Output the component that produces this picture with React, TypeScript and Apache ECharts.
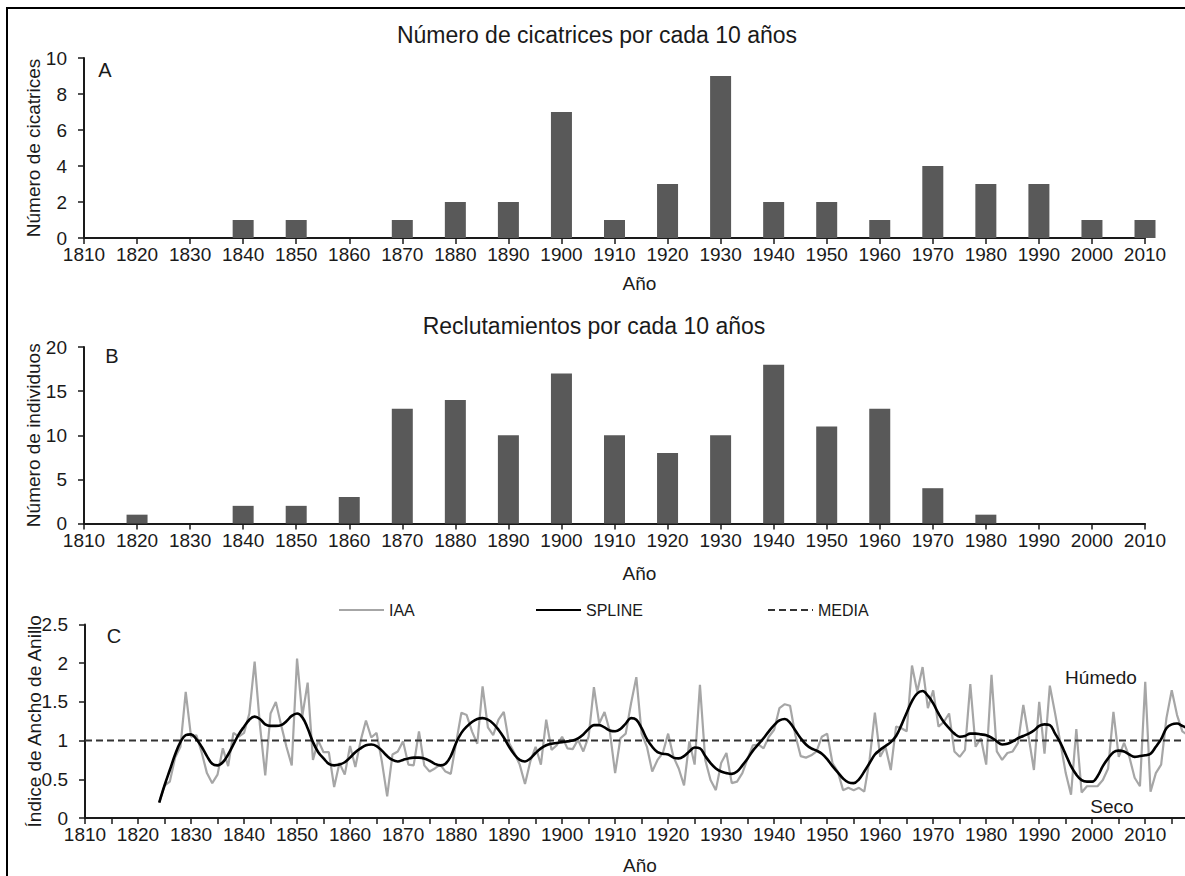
import React, { useEffect, useRef } from "react";
import * as echarts from "echarts";

const FONT = "'Liberation Sans', Arial, sans-serif";

// Panel A / B: decades
const decades = [1810, 1820, 1830, 1840, 1850, 1860, 1870, 1880, 1890, 1900, 1910, 1920, 1930, 1940, 1950, 1960, 1970, 1980, 1990, 2000, 2010];
const scars = [0, 0, 0, 1, 1, 0, 1, 2, 2, 7, 1, 3, 9, 2, 2, 1, 4, 3, 3, 1, 1];
const recruits = [0, 1, 0, 2, 2, 3, 13, 14, 10, 17, 10, 8, 10, 18, 11, 13, 4, 1, 0, 0, 0];

// Panel C: yearly ring-width index, first year 1824
const firstYear = 1824;
const iaa = [
  0.2, 0.42, 0.47, 0.78, 0.92, 1.63, 1.05, 1.07, 0.85, 0.58, // 1824-1833
  0.45, 0.56, 0.9, 0.67, 1.1, 1.05, 1.1, 1.35, 2.02, 1.2, // 1834-1843
  0.55, 1.35, 1.5, 1.2, 0.92, 0.68, 2.06, 1.32, 1.75, 0.75, // 1844-1853
  1.0, 0.85, 0.85, 0.4, 0.71, 0.56, 0.93, 0.66, 1.0, 1.26, // 1854-1863
  1.04, 1.1, 0.73, 0.28, 0.82, 0.86, 0.99, 0.69, 0.68, 1.12, // 1864-1873
  0.68, 0.6, 0.64, 0.69, 0.6, 0.57, 0.97, 1.36, 1.33, 1.12, // 1874-1883
  0.96, 1.7, 1.17, 1.07, 1.27, 1.37, 0.97, 0.84, 0.69, 0.44, // 1884-1893
  0.73, 0.92, 0.69, 1.27, 0.88, 0.94, 1.05, 0.9, 0.89, 1.01, // 1894-1903
  0.86, 1.05, 1.69, 1.22, 1.37, 1.12, 0.58, 1.03, 1.09, 1.48, // 1904-1913
  1.82, 1.09, 0.92, 0.6, 0.75, 0.84, 1.09, 0.79, 0.64, 0.42, // 1914-1923
  0.99, 0.69, 1.72, 0.75, 0.49, 0.36, 0.71, 0.84, 0.45, 0.47, // 1924-1933
  0.58, 0.77, 0.94, 0.95, 0.9, 1.05, 1.14, 1.42, 1.47, 1.45, // 1934-1943
  1.07, 0.8, 0.78, 0.81, 0.86, 1.05, 1.09, 0.71, 0.6, 0.36, // 1944-1953
  0.39, 0.36, 0.39, 0.34, 0.75, 1.36, 0.79, 0.92, 0.62, 1.18, // 1954-1963
  1.16, 1.12, 1.97, 1.63, 1.95, 1.42, 1.65, 1.18, 1.24, 1.35, // 1964-1973
  0.86, 0.79, 0.88, 1.73, 0.92, 1.03, 0.69, 1.85, 0.86, 0.75, // 1974-1983
  0.84, 0.86, 0.97, 1.46, 1.05, 0.62, 1.5, 0.83, 1.71, 1.35, // 1984-1993
  0.97, 0.58, 0.3, 1.15, 0.33, 0.41, 0.41, 0.41, 0.49, 0.64, // 1994-2003
  1.37, 0.79, 0.97, 0.79, 0.52, 0.41, 1.76, 0.34, 0.58, 0.69, // 2004-2013
  1.29, 1.65, 1.33, 1.12, 1.07 // 2014-2018
];
const spline = [
  0.2, 0.42, 0.62, 0.82, 0.98, 1.07, 1.08, 1.02, 0.92, 0.8, // 1824-1833
  0.7, 0.68, 0.72, 0.82, 0.95, 1.08, 1.18, 1.27, 1.31, 1.28, // 1834-1843
  1.21, 1.19, 1.19, 1.2, 1.25, 1.32, 1.35, 1.3, 1.16, 0.98, // 1844-1853
  0.85, 0.77, 0.7, 0.68, 0.69, 0.72, 0.78, 0.85, 0.9, 0.94, // 1854-1863
  0.95, 0.93, 0.87, 0.8, 0.75, 0.73, 0.75, 0.77, 0.78, 0.78, // 1864-1873
  0.77, 0.74, 0.7, 0.68, 0.7, 0.8, 0.97, 1.1, 1.18, 1.24, // 1874-1883
  1.28, 1.29, 1.27, 1.22, 1.14, 1.04, 0.92, 0.82, 0.75, 0.73, // 1884-1893
  0.77, 0.84, 0.9, 0.94, 0.96, 0.97, 0.98, 0.99, 1.0, 1.03, // 1894-1903
  1.08, 1.15, 1.2, 1.2, 1.17, 1.13, 1.12, 1.15, 1.22, 1.29, // 1904-1913
  1.27, 1.16, 1.02, 0.92, 0.85, 0.83, 0.82, 0.78, 0.77, 0.8, // 1914-1923
  0.86, 0.91, 0.9, 0.8, 0.71, 0.64, 0.6, 0.58, 0.57, 0.6, // 1924-1933
  0.68, 0.77, 0.87, 0.95, 1.03, 1.12, 1.2, 1.26, 1.28, 1.23, // 1934-1943
  1.13, 1.03, 0.95, 0.9, 0.87, 0.83, 0.76, 0.67, 0.59, 0.51, // 1944-1953
  0.46, 0.45, 0.5, 0.6, 0.71, 0.82, 0.88, 0.93, 0.98, 1.06, // 1954-1963
  1.2, 1.36, 1.51, 1.61, 1.64, 1.58, 1.48, 1.35, 1.24, 1.16, // 1964-1973
  1.09, 1.05, 1.06, 1.09, 1.09, 1.08, 1.07, 1.04, 0.99, 0.95, // 1974-1983
  0.96, 0.99, 1.03, 1.06, 1.09, 1.13, 1.19, 1.21, 1.2, 1.09, // 1984-1993
  0.97, 0.82, 0.67, 0.56, 0.49, 0.47, 0.47, 0.54, 0.67, 0.77, // 1994-2003
  0.85, 0.87, 0.86, 0.82, 0.79, 0.8, 0.81, 0.83, 0.92, 1.02, // 2004-2013
  1.16, 1.21, 1.22, 1.19, 1.16 // 2014-2018
];
const mediaValue = 1;

const titleA = "Número de cicatrices por cada 10 años";
const titleB = "Reclutamientos por cada 10 años";

export default function App() {
  const ref = useRef<HTMLDivElement>(null);
  useEffect(() => {
    document.body.style.margin = "0";
    const chart = echarts.init(ref.current!, null, { renderer: "svg" });
    const ink = "#1a1a1a";
    const axisLine = { show: true, lineStyle: { color: ink, width: 2 } };
    const axisTick = { show: true, length: 6, lineStyle: { color: ink, width: 1.5 } };
    const labelStyle = { fontSize: 19, color: ink, fontFamily: FONT };
    const nameStyle = { fontSize: 19, color: ink, fontFamily: FONT };

    const decadeX = (gridIndex: number, gap: number) => ({
      type: "value",
      gridIndex,
      min: 1810,
      max: 2010,
      interval: 10,
      axisLine,
      axisTick,
      splitLine: { show: false },
      axisLabel: { ...labelStyle, margin: 7, formatter: (v: number) => String(v) },
      name: "Año",
      nameLocation: "middle",
      nameGap: gap,
      nameMoveOverlap: false,
      nameTextStyle: { ...nameStyle, padding: [0, 0, 0, 50] },
    });

    const yName = (gridIndex: number, max: number, interval: number, name: string) => ({
      type: "value", gridIndex, min: 0, max, interval,
      axisLine, axisTick, splitLine: { show: false },
      axisLabel: { ...labelStyle, margin: 17 },
      name, nameLocation: "middle", nameGap: 41, nameMoveOverlap: false, nameTextStyle: nameStyle,
    });

    const yearsIaa = iaa.map((v, i) => [firstYear + i, v]);
    const yearsSpline = spline.map((v, i) => [firstYear + i, v]);

    const legendBase = {
      top: 602,
      padding: 0,
      itemWidth: 45,
      itemHeight: 14,
      itemStyle: { opacity: 0 },
      textStyle: { fontSize: 16, color: ink, fontFamily: FONT },
    };

    chart.setOption({
      animation: false,
      textStyle: { fontFamily: FONT },
      grid: [
        { left: 84, top: 58, width: 1061, height: 180 },
        { left: 84, top: 347, width: 1061, height: 176.5 },
        { left: 85, top: 624.5, width: 1100, height: 194.2 },
      ],
      xAxis: [
        decadeX(0, 35.5),
        decadeX(1, 40),
        {
          type: "value",
          gridIndex: 2,
          min: 1810,
          max: 2017.5,
          interval: 5,
          axisLine,
          axisTick,
          splitLine: { show: false },
          axisLabel: {
            ...labelStyle,
            margin: 7,
            showMaxLabel: false,
            formatter: (v: number) => (v % 10 === 0 ? String(v) : ""),
          },
          name: "Año",
          nameLocation: "middle",
          nameGap: 38,
          nameMoveOverlap: false,
          nameTextStyle: { ...nameStyle, padding: [0, 0, 0, 10] },
        },
      ],
      yAxis: [
        yName(0, 10, 2, "Número de cicatrices"),
        yName(1, 20, 5, "Número de individuos"),
        yName(2, 2.5, 0.5, "Índice de Ancho de Anillo"),
      ],
      legend: [
        { ...legendBase, data: ["IAA"], left: 338 },
        { ...legendBase, data: ["SPLINE"], left: 535 },
        { ...legendBase, data: ["MEDIA"], left: 767 },
      ],
      series: [
        {
          name: "Cicatrices", type: "bar", xAxisIndex: 0, yAxisIndex: 0,
          data: decades.map((d, i) => [d, scars[i]]), barWidth: 21, clip: true,
          itemStyle: { color: "#595959" },
        },
        {
          name: "Reclutamientos", type: "bar", xAxisIndex: 1, yAxisIndex: 1,
          data: decades.map((d, i) => [d, recruits[i]]), barWidth: 21, clip: true,
          itemStyle: { color: "#595959" },
        },
        {
          name: "IAA", type: "line", xAxisIndex: 2, yAxisIndex: 2, data: yearsIaa,
          symbol: "none", showSymbol: false, clip: true,
          lineStyle: { color: "#a6a6a6", width: 2.2 }, itemStyle: { color: "#a6a6a6" },
        },
        {
          name: "MEDIA", type: "line", xAxisIndex: 2, yAxisIndex: 2,
          data: [[1810, mediaValue], [2017.5, mediaValue]],
          symbol: "none", showSymbol: false,
          lineStyle: { color: "#333333", width: 2, type: [7, 4] }, itemStyle: { color: "#333333" },
        },
        {
          name: "SPLINE", type: "line", xAxisIndex: 2, yAxisIndex: 2, data: yearsSpline,
          symbol: "none", showSymbol: false, smooth: 0.4, clip: true,
          lineStyle: { color: "#000000", width: 2.6 }, itemStyle: { color: "#000000" },
        },
      ],
      graphic: [
        { type: "rect", shape: { x: 7, y: 8, width: 1400, height: 1000 }, style: { fill: "none", stroke: "#000", lineWidth: 2 }, silent: true },
        { type: "text", x: 597, y: 35, style: { text: titleA, font: `23px ${FONT}`, fill: ink, align: "center", verticalAlign: "middle" } },
        { type: "text", x: 594, y: 326, style: { text: titleB, font: `23px ${FONT}`, fill: ink, align: "center", verticalAlign: "middle" } },
        { type: "text", x: 105, y: 70, style: { text: "A", font: `20px ${FONT}`, fill: ink, align: "center", verticalAlign: "middle" } },
        { type: "text", x: 112, y: 356, style: { text: "B", font: `20px ${FONT}`, fill: ink, align: "center", verticalAlign: "middle" } },
        { type: "text", x: 114, y: 636, style: { text: "C", font: `20px ${FONT}`, fill: ink, align: "center", verticalAlign: "middle" } },
        { type: "text", x: 1101, y: 677, style: { text: "Húmedo", font: `19px ${FONT}`, fill: ink, align: "center", verticalAlign: "middle" } },
        { type: "text", x: 1112, y: 806, style: { text: "Seco", font: `19px ${FONT}`, fill: ink, align: "center", verticalAlign: "middle" } },
      ],
    });
    return () => chart.dispose();
  }, []);
  return <div ref={ref} style={{ width: 1185, height: 876 }} />;
}
